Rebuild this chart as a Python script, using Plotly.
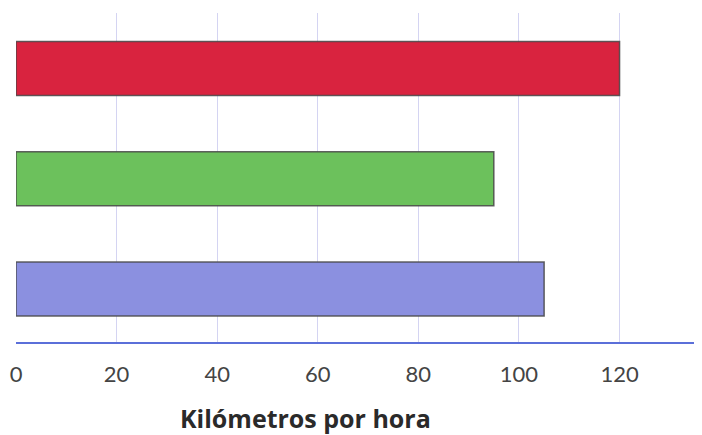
import plotly.graph_objects as go

categories = ["Vehículo C", "Vehículo B", "Vehículo A"]
speeds = [105, 95, 120]
colors = ["#8b90e0", "#6cc15c", "#d9233f"]
tick_vals = [0, 20, 40, 60, 80, 100, 120]
tick_text = ["0", "20", "40", "60", "80", "100", "120"]

# the page body adds an 8px offset; compensate so the plot lands where the reference has it
OFF = 8
W, H = 702, 435
ML, MR, MT, MB = 16 - OFF, 7 + OFF, 13 - OFF, 93 + OFF
plot_w = W - ML - MR
plot_h = H - MT - MB

fig = go.Figure()
fig.add_trace(go.Bar(
    y=categories, x=speeds, orientation="h",
    marker=dict(color=colors, line=dict(color="rgba(70,70,70,0.85)", width=1.5)),
    width=0.49,
))

fig.update_layout(
    width=W, height=H,
    margin=dict(l=ML, r=MR, t=MT, b=MB, autoexpand=False),
    paper_bgcolor="white", plot_bgcolor="white",
    showlegend=False,
    xaxis=dict(
        range=[0, 135], tickvals=tick_vals, ticktext=tick_text,
        showgrid=True, gridcolor="#d4d4f2", gridwidth=1,
        zeroline=False, automargin=False,
        showline=True, linecolor="#5b6fd9", linewidth=2,
        tickfont=dict(family="Lato", size=22, color="#444444"),
        ticks="", ticklabelstandoff=12,
    ),
    yaxis=dict(
        showticklabels=False, showgrid=False, zeroline=False, automargin=False,
        showline=False, range=[-0.48, 2.503],
    ),
    annotations=[dict(
        text="<b>Kilómetros por hora</b>",
        x=(305 - 16) / plot_w, y=(342 - 418) / plot_h,
        xref="paper", yref="paper", showarrow=False,
        xanchor="center", yanchor="middle",
        font=dict(family="Open Sans", size=25, color="#2a2a2a"),
    )],
)

fig.write_html("out.html")
